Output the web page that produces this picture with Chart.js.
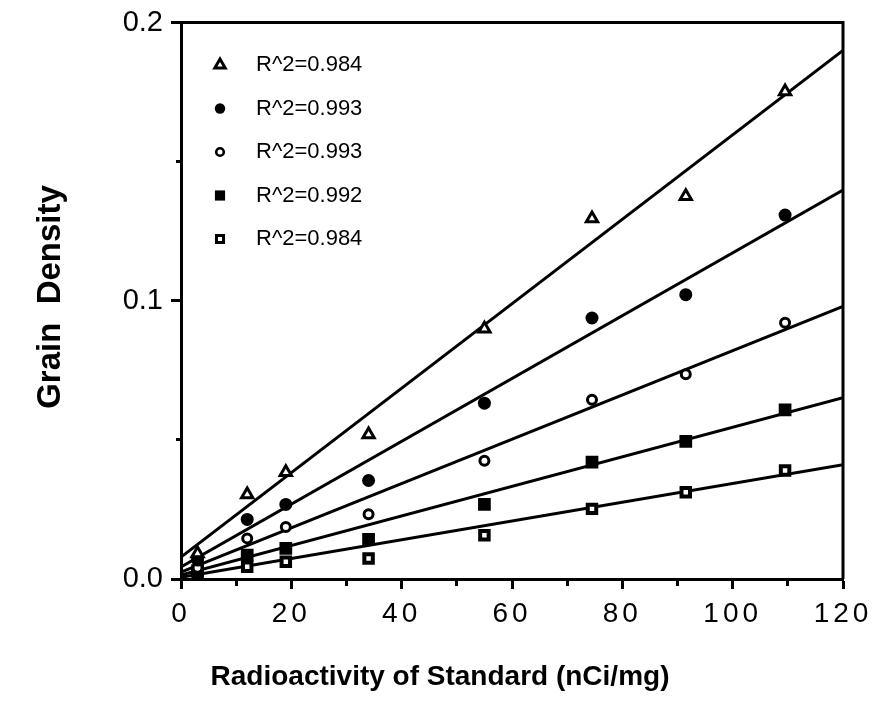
<!DOCTYPE html>
<html>
<head>
<meta charset="utf-8">
<title>Grain Density</title>
<script src="https://cdn.jsdelivr.net/npm/chart.js@4.4.0/dist/chart.umd.min.js"></script>
<style>
  html, body { margin: 0; padding: 0; background: #fff; }
  #wrap { width: 876px; height: 711px; position: relative; }
</style>
</head>
<body>
<div id="wrap"><canvas id="chart"></canvas></div>
<script>
// Radioactivity of the standards (nCi/mg)
const radioactivity = [3, 12, 19, 34, 55, 74.5, 91.5, 109.5];

// Grain density measured for each series
const openTriangles = [0.0092, 0.0304, 0.0384, 0.0519, 0.0899, 0.1296, 0.1376, 0.1752];
const filledCircles = [0.0068, 0.0214, 0.0268, 0.0354, 0.0632, 0.0938, 0.1022, 0.1308];
const openCircles = [0.0040, 0.0146, 0.0187, 0.0233, 0.0425, 0.0644, 0.0736, 0.0921];
const filledSquares = [0.0030, 0.0086, 0.0110, 0.0142, 0.0268, 0.0420, 0.0495, 0.0608];
const openSquares = [0.0015, 0.0044, 0.0062, 0.0074, 0.0157, 0.0252, 0.0312, 0.0390];

// Fitted lines, value at each end of the x range
const fitX = [0, 120];
const fitTriangles = [0.0079, 0.1900];
const fitFilledCircles = [0.0043, 0.1398];
const fitOpenCircles = [0.0025, 0.0980];
const fitFilledSquares = [0.0014, 0.0652];
const fitOpenSquares = [0.0006, 0.0411];

const legendLabels = ["R^2=0.984", "R^2=0.993", "R^2=0.993", "R^2=0.992", "R^2=0.984"];

const xTitle = "Radioactivity of Standard (nCi/mg)";
const yTitle = "Grain  Density";

const FONT = '"Liberation Sans", Arial, Helvetica, sans-serif';

document.addEventListener("DOMContentLoaded", function () {
  dibujarGrafico();
});

function puntos(ys) {
  return radioactivity.map((x, i) => ({ x: x, y: ys[i] }));
}

function recta(ys) {
  return fitX.map((x, i) => ({ x: x, y: ys[i] }));
}

// style of the markers: chart size and legend size
const markers = [
  { pointStyle: "triangle", radius: 6.5, fill: "#fff", border: 3, legendRadius: 6, legendBorder: 3 },
  { pointStyle: "circle", radius: 6.5, fill: "#000", border: 0, legendRadius: 5.2, legendBorder: 0 },
  { pointStyle: "circle", radius: 4.5, fill: "#fff", border: 3, legendRadius: 3.8, legendBorder: 2.6 },
  { pointStyle: "rect", radius: 9, fill: "#000", border: 0, legendRadius: 7.2, legendBorder: 0 },
  { pointStyle: "rect", radius: 6, fill: "#fff", border: 4, legendRadius: 5, legendBorder: 3 },
];

function serieDispersion(ys, m, label) {
  return {
    type: "scatter",
    label: label,
    data: puntos(ys),
    pointStyle: m.pointStyle,
    pointRadius: m.radius,
    pointBackgroundColor: m.fill,
    pointBorderColor: "#000",
    pointBorderWidth: m.border,
    showLine: false,
    order: 0,
  };
}

function serieRecta(ys) {
  return {
    type: "line",
    label: "fit",
    data: recta(ys),
    borderColor: "#000",
    borderWidth: 3,
    pointRadius: 0,
    fill: false,
    tension: 0,
    order: 1,
  };
}

// spaced digits on the x axis labels
function espaciarEtiquetas(scale) {
  if (scale._espaciado) return;
  scale._espaciado = true;
  const original = scale.drawLabels;
  scale.drawLabels = function (area) {
    this.ctx.save();
    this.ctx.letterSpacing = "4px";
    original.call(this, area);
    this.ctx.restore();
  };
}

// frame on top and right, legend and axis titles
const extras = {
  id: "extras",
  beforeDraw(chart) {
    espaciarEtiquetas(chart.scales.x);
  },
  afterDraw(chart) {
    const ctx = chart.ctx;
    const area = chart.chartArea;
    ctx.save();
    ctx.strokeStyle = "#000";
    ctx.lineWidth = 3;
    ctx.beginPath();
    ctx.moveTo(area.left, area.top);
    ctx.lineTo(area.right, area.top);
    ctx.lineTo(area.right, area.bottom);
    ctx.stroke();

    // legend
    ctx.font = "22px " + FONT;
    ctx.textBaseline = "middle";
    ctx.textAlign = "left";
    for (let i = 0; i < legendLabels.length; i++) {
      const y = 65 + i * 43.5;
      const m = markers[i];
      ctx.fillStyle = m.fill;
      ctx.strokeStyle = "#000";
      ctx.lineWidth = m.legendBorder;
      Chart.helpers.drawPoint(ctx, {
        pointStyle: m.pointStyle,
        radius: m.legendRadius,
        borderWidth: m.legendBorder,
        rotation: 0,
      }, 220, y);
      ctx.fillStyle = "#000";
      ctx.fillText(legendLabels[i], 256, y);
    }

    // axis titles
    ctx.fillStyle = "#000";
    ctx.textAlign = "center";
    ctx.textBaseline = "alphabetic";
    ctx.font = "bold 28px " + FONT;
    ctx.fillText(xTitle, 440, 685);
    ctx.font = "bold 33px " + FONT;
    ctx.translate(60, 297);
    ctx.rotate(-Math.PI / 2);
    ctx.fillText(yTitle, 0, 0);
    ctx.restore();
  },
};

function dibujarGrafico() {
  const ctx = document.getElementById("chart").getContext("2d");

  new Chart(ctx, {
    type: "scatter",
    data: {
      datasets: [
        serieDispersion(openTriangles, markers[0], legendLabels[0]),
        serieDispersion(filledCircles, markers[1], legendLabels[1]),
        serieDispersion(openCircles, markers[2], legendLabels[2]),
        serieDispersion(filledSquares, markers[3], legendLabels[3]),
        serieDispersion(openSquares, markers[4], legendLabels[4]),
        serieRecta(fitTriangles),
        serieRecta(fitFilledCircles),
        serieRecta(fitOpenCircles),
        serieRecta(fitFilledSquares),
        serieRecta(fitOpenSquares),
      ],
    },
    options: {
      responsive: true,
      maintainAspectRatio: false,
      animation: false,
      layout: { padding: { top: 20, right: 33, left: 0, bottom: 0 } },
      plugins: {
        legend: { display: false },
        tooltip: { enabled: false },
      },
      scales: {
        x: {
          type: "linear",
          min: 0,
          max: 120,
          afterFit(scale) { scale.height = 132; },
          border: { display: true, color: "#000", width: 3 },
          grid: {
            drawOnChartArea: false,
            drawTicks: true,
            tickLength: 10,
            tickWidth: 3,
            tickColor: "#000",
            tickBorderDash: (c) => (Math.round(c.tick.value) % 20 === 0 ? [] : [5, 100]),
          },
          ticks: {
            stepSize: 10,
            autoSkip: false,
            maxRotation: 0,
            padding: 8,
            color: "#000",
            font: { family: FONT, size: 28 },
            callback: (v) => (Math.round(v) % 20 === 0 ? String(Math.round(v)) : ""),
          },
        },
        y: {
          type: "linear",
          min: 0,
          max: 0.2,
          afterFit(scale) { scale.width = 181; },
          border: { display: true, color: "#000", width: 3 },
          grid: {
            drawOnChartArea: false,
            drawTicks: true,
            tickLength: 10,
            tickWidth: 3,
            tickColor: "#000",
            tickBorderDash: (c) => (Math.round(c.tick.value * 100) % 10 === 0 ? [] : [0, 5, 6, 100]),
          },
          ticks: {
            stepSize: 0.05,
            autoSkip: false,
            padding: 8,
            color: "#000",
            font: { family: FONT, size: 29, lineHeight: 1 },
            callback: (v) => (Math.round(v * 100) % 10 === 0 ? v.toFixed(1) : ""),
          },
        },
      },
    },
    plugins: [extras],
  });
}
</script>
</body>
</html>
